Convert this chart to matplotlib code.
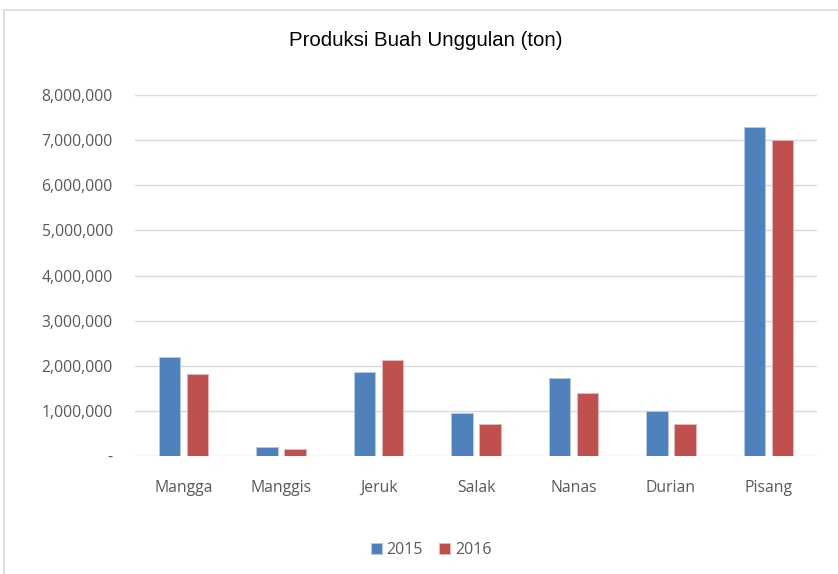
import matplotlib
matplotlib.use("Agg")
import matplotlib.pyplot as plt
from matplotlib.patches import Rectangle
import numpy as np

categories = ["Mangga", "Manggis", "Jeruk", "Salak", "Nanas", "Durian", "Pisang"]
prod_2015 = [2190000, 200000, 1860000, 960000, 1730000, 1000000, 7300000]
prod_2016 = [1820000, 160000, 2130000, 710000, 1400000, 710000, 7000000]
yticks = [0, 1000000, 2000000, 3000000, 4000000, 5000000, 6000000, 7000000, 8000000]
ytick_labels = ["-", "1,000,000", "2,000,000", "3,000,000", "4,000,000",
                "5,000,000", "6,000,000", "7,000,000", "8,000,000"]

blue = "#4F81BD"
red = "#C0504D"
txt = "#595959"

fig = plt.figure(figsize=(8.38, 5.74), dpi=100)
# chart border
fig.patches.append(Rectangle((4 / 838, -0.1), 1.1, (574 - 10) / 574 + 0.1,
                             transform=fig.transFigure, fill=False,
                             edgecolor="#D9D9D9", linewidth=1.2))

ax = fig.add_axes([135 / 838, 1 - 456 / 574, (817 - 135) / 838, (456 - 95) / 574])

x = np.arange(len(categories))
w = 0.22
off = 0.144
ax.bar(x - off, prod_2015, w, color=blue, edgecolor="#B8CCE4", linewidth=0.6, label="2015", zorder=3)
ax.bar(x + off, prod_2016, w, color=red, edgecolor="#E6B9B8", linewidth=0.6, label="2016", zorder=3)

ax.set_xlim(-0.5, len(categories) - 0.5)
ax.set_ylim(0, 8000000)
ax.set_yticks(yticks)
ax.set_yticklabels(ytick_labels)
ax.set_xticks(x)
ax.set_xticklabels(categories)
ax.grid(axis="y", color="#D9D9D9", linewidth=1.0, zorder=0)
for s in ax.spines.values():
    s.set_visible(False)
ax.tick_params(axis="both", length=0, labelsize=11.3, labelcolor=txt)
ax.tick_params(axis="y", pad=16)
ax.tick_params(axis="x", pad=17.5)
for lab in ax.get_xticklabels() + ax.get_yticklabels():
    lab.set_fontfamily("Open Sans")

fig.text(426 / 838, 1 - 40 / 574, "Produksi Buah Unggulan (ton)", ha="center", va="center",
         fontsize=14.7, fontfamily="Liberation Sans", color="black")

leg = fig.legend(loc="center", bbox_to_anchor=(431 / 838, 1 - 550 / 574), ncol=2, frameon=False,
                 prop={"family": "Open Sans", "size": 11.5}, handlelength=0.7, handleheight=0.7,
                 handletextpad=0.3, columnspacing=1.0)
for t in leg.get_texts():
    t.set_color(txt)

plt.savefig("out.png", dpi=100)
